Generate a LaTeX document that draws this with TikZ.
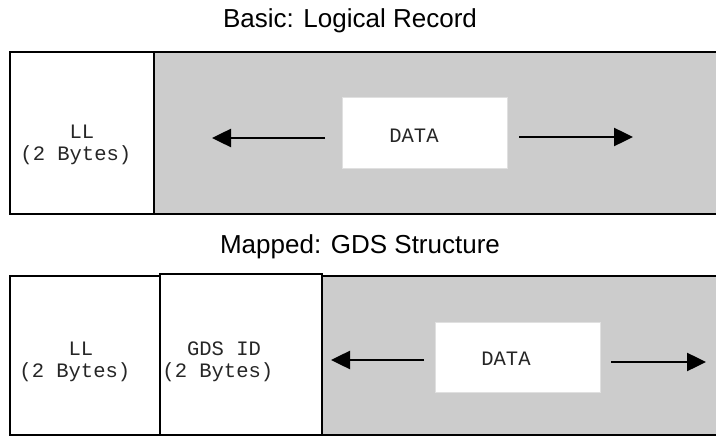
\documentclass[tikz,border=0pt]{standalone}
\usepackage{fontspec}
\setmainfont{Liberation Sans}
\newfontfamily\monofont{Liberation Mono}
\usetikzlibrary{arrows.meta}
\definecolor{gray20}{HTML}{CCCCCC}
\tikzset{
  cell/.style={draw=black, line width=2.5pt, anchor=north west, inner sep=0pt, outer sep=0pt},
  graycell/.style={cell, fill=gray20},
  databox/.style={fill=white, draw=white!88!black, line width=0.5pt, inner sep=0pt},
  mono/.style={font=\monofont\fontsize{20.5}{22.5}\selectfont, align=center, text=black!85},
  title/.style={font=\fontsize{26}{30}\selectfont},
  flow/.style={line width=2.5pt, -{Triangle[length=19pt,width=18pt]}}
}
\begin{document}
\begin{tikzpicture}[x=1pt,y=-1pt]
\useasboundingbox (0,0) rectangle (716,436);
\clip (0,0) rectangle (716,436);
\fill[white] (0,0) rectangle (716,436);
% Row 1
\node[title] (t1) at (350,21) {Basic: Logical Record};
\node[graycell, minimum width=576pt, minimum height=162pt] (d1) at (154,52) {};
\node[cell, fill=white, minimum width=144pt, minimum height=162pt] (ll1) at (10,52) {};
\node[mono] (ll1t) at (82,145) {LL\\(2 Bytes)\hphantom{x}};
\node[databox, minimum width=165pt, minimum height=71pt] (db1) at (424.5,132.5) {};
\node[mono] at (414,136) {DATA};
\coordinate (a1s) at (325,138);
\coordinate (a1e) at (212,138);
\coordinate (b1s) at (519,137);
\coordinate (b1e) at (633,137);
\draw[flow] (a1s) -- (a1e);
\draw[flow] (b1s) -- (b1e);
% Row 2
\node[title] (t2) at (360,247) {Mapped: GDS Structure};
\node[graycell, minimum width=408pt, minimum height=159pt] (d2) at (322,276) {};
\node[cell, fill=white, minimum width=150pt, minimum height=159pt] (ll2) at (10,276) {};
\node[cell, fill=white, minimum width=162pt, minimum height=161pt] (gds) at (160,274) {};
\node[mono] (ll2t) at (81,362) {LL\\(2 Bytes)\hphantom{x}};
\node[mono] (gdst) at (224,362) {GDS ID\\(2 Bytes)\hphantom{x}};
\node[databox, minimum width=165pt, minimum height=70pt] (db2) at (517.5,357) {};
\node[mono] at (506,359) {DATA};
\coordinate (a2s) at (424,360);
\coordinate (a2e) at (331,360);
\coordinate (b2s) at (611,362);
\coordinate (b2e) at (706,362);
\draw[flow] (a2s) -- (a2e);
\draw[flow] (b2s) -- (b2e);
\end{tikzpicture}
\end{document}
